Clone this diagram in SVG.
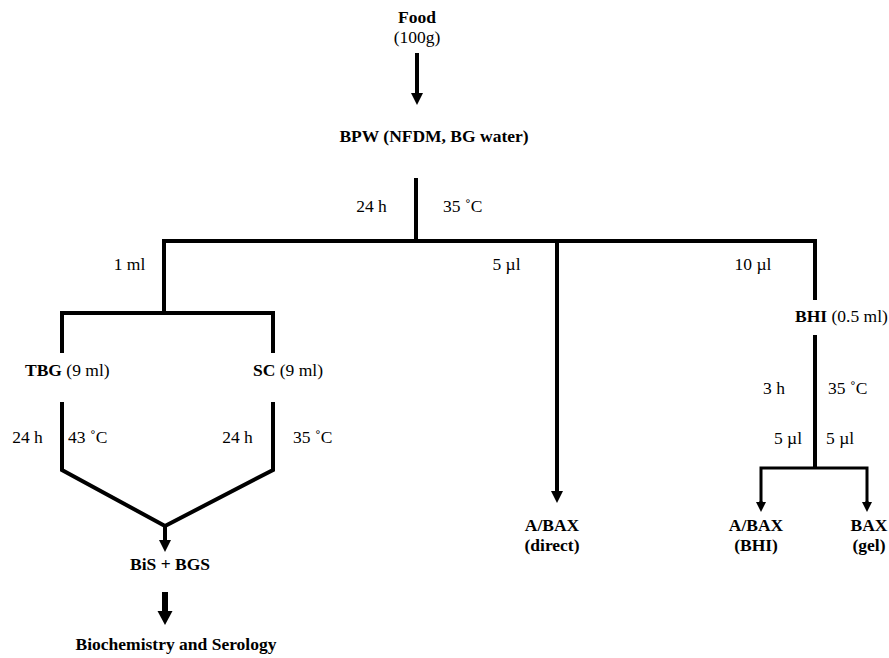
<svg xmlns="http://www.w3.org/2000/svg" width="889" height="658" viewBox="0 0 889 658">
<style>
text{font-family:"Liberation Serif","Times New Roman","DejaVu Serif",serif;font-size:17.5px;fill:#000}
.b{font-weight:bold}
.m{text-anchor:middle}
.ln{fill:none;stroke:#000;stroke-width:4;stroke-linejoin:miter}
.th{stroke-width:3}
.bg{stroke-width:6}
</style>
<defs>
<marker id="ah" markerUnits="userSpaceOnUse" viewBox="0 -7 13 14" refX="0" refY="0" markerWidth="13" markerHeight="14" orient="auto"><path d="M0,-6 L12,0 L0,6 z" fill="#000"/></marker>
<marker id="ahs" markerUnits="userSpaceOnUse" viewBox="0 -6 11 12" refX="0" refY="0" markerWidth="11" markerHeight="12" orient="auto"><path d="M0,-5 L10,0 L0,5 z" fill="#000"/></marker>
<marker id="ahb" markerUnits="userSpaceOnUse" viewBox="0 -8 15 16" refX="0" refY="0" markerWidth="15" markerHeight="16" orient="auto"><path d="M0,-7.5 L14,0 L0,7.5 z" fill="#000"/></marker>
</defs>
<g id="connectors">
<line class="ln" x1="417" y1="53" x2="417" y2="93" marker-end="url(#ah)"/>
<polyline class="ln" points="416,178 416,241"/>
<polyline class="ln" points="164,313 164,241 815,241 815,300"/>
<line class="ln" x1="557" y1="241" x2="557" y2="491" marker-end="url(#ah)"/>
<polyline class="ln" points="62,353 62,313 273,313 273,353"/>
<polyline class="ln" points="62,402 62,470 165,526 273,470 273,402"/>
<line class="ln" x1="165" y1="526" x2="165" y2="540" marker-end="url(#ah)"/>
<line class="ln bg" x1="165" y1="592" x2="165" y2="611" marker-end="url(#ahb)"/>
<polyline class="ln" points="815,335 815,468"/>
<polyline class="ln th" points="761,502 761,468 867,468 867,502"/>
<line class="ln th" x1="761" y1="501" x2="761" y2="502" marker-end="url(#ahs)"/>
<line class="ln th" x1="867" y1="501" x2="867" y2="502" marker-end="url(#ahs)"/>
</g>
<g id="food"><text class="b m" x="417" y="23">Food</text><text class="m" x="417" y="43">(100g)</text></g>
<g id="bpw"><text class="b m" x="434" y="142">BPW (NFDM, BG water)</text></g>
<g id="lbl-bpw"><text class="m" x="371.5" y="212">24 h</text><text x="443" y="212">35 ˚C</text></g>
<g id="lbl-split"><text class="m" x="129.5" y="270">1 ml</text><text class="m" x="506.5" y="270">5 µl</text><text class="m" x="753" y="270">10 µl</text></g>
<g id="tbg"><text x="25" y="376"><tspan class="b">TBG</tspan> (9 ml)</text></g>
<g id="sc"><text x="253" y="376"><tspan class="b">SC</tspan> (9 ml)</text></g>
<g id="lbl-tbg"><text class="m" x="27.5" y="443">24 h</text><text x="68" y="443">43 ˚C</text></g>
<g id="lbl-sc"><text class="m" x="237.5" y="443">24 h</text><text x="293" y="443">35 ˚C</text></g>
<g id="bis"><text class="b m" x="170" y="570">BiS + BGS</text></g>
<g id="biochem"><text class="b m" x="176" y="650">Biochemistry and Serology</text></g>
<g id="abax-direct"><text class="b m" x="552" y="531">A/BAX</text><text class="b m" x="552" y="551">(direct)</text></g>
<g id="bhi"><text x="795" y="322"><tspan class="b">BHI</tspan> (0.5 ml)</text></g>
<g id="lbl-bhi"><text class="m" x="774" y="394">3 h</text><text x="828" y="394">35 ˚C</text><text class="m" x="788" y="444">5 µl</text><text x="826" y="444">5 µl</text></g>
<g id="abax-bhi"><text class="b m" x="756" y="531">A/BAX</text><text class="b m" x="756" y="551">(BHI)</text></g>
<g id="bax-gel"><text class="b m" x="869" y="531">BAX</text><text class="b m" x="869" y="551">(gel)</text></g>
</svg>
